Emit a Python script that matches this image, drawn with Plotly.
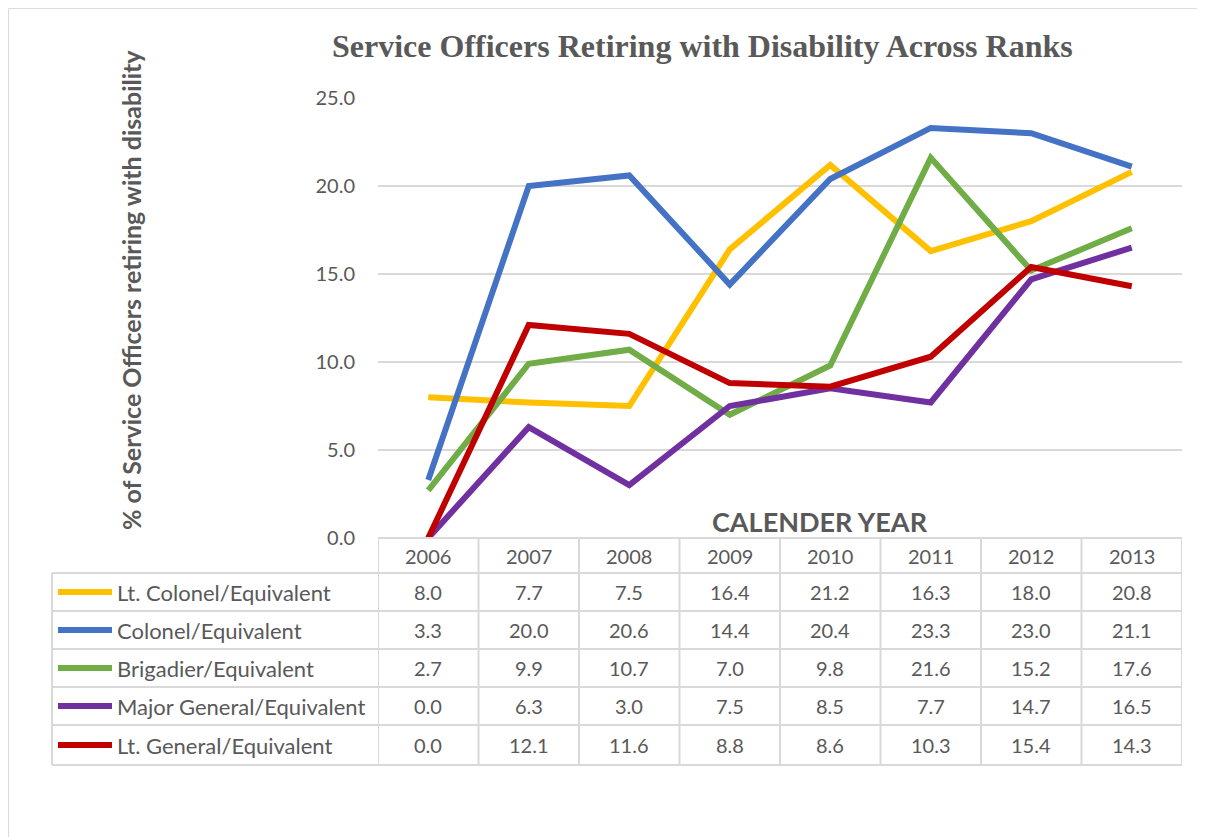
import plotly.graph_objects as go

W, H = 1205, 837

years = ["2006", "2007", "2008", "2009", "2010", "2011", "2012", "2013"]
series_names = [
    "Lt. Colonel/Equivalent",
    "Colonel/Equivalent",
    "Brigadier/Equivalent",
    "Major General/Equivalent",
    "Lt. General/Equivalent",
]
lt_colonel = [8.0, 7.7, 7.5, 16.4, 21.2, 16.3, 18.0, 20.8]
colonel = [3.3, 20.0, 20.6, 14.4, 20.4, 23.3, 23.0, 21.1]
brigadier = [2.7, 9.9, 10.7, 7.0, 9.8, 21.6, 15.2, 17.6]
major_general = [0.0, 6.3, 3.0, 7.5, 8.5, 7.7, 14.7, 16.5]
lt_general = [0.0, 12.1, 11.6, 8.8, 8.6, 10.3, 15.4, 14.3]
series_values = [lt_colonel, colonel, brigadier, major_general, lt_general]
colors = ["#FFC000", "#4472C4", "#70AD47", "#7030A0", "#C00000"]
y_ticks = [0, 5, 10, 15, 20, 25]

TXT = "#595959"
GRID = "#D9D9D9"
SANS = "Lato, Open Sans, sans-serif"
FS_NUM = 20
FS_LBL = 22
OFF = 8  # page body margin


def px(x):
    return (x - OFF) / W


def py(y):
    return 1 - (y - OFF) / H


fig = go.Figure()
for name, vals, col in zip(series_names, series_values, colors):
    fig.add_trace(go.Scatter(x=list(range(len(years))), y=vals, name=name, mode="lines",
                             line=dict(color=col, width=6), showlegend=False,
                             hovertext=years))

plot_left, plot_right, plot_top, plot_bottom = 378, 1182, 98, 538
fig.update_layout(
    width=W, height=H,
    margin=dict(l=0, r=0, t=0, b=0, pad=0, autoexpand=False),
    paper_bgcolor="white", plot_bgcolor="white",
    showlegend=False,
    xaxis=dict(domain=[px(plot_left), px(plot_right)],
               range=[-0.5, len(years) - 0.5], showticklabels=False, automargin=False,
               showgrid=False, zeroline=False, showline=False, ticks=""),
    yaxis=dict(domain=[py(plot_bottom), py(plot_top)], range=[0, 25], automargin=False,
               tickvals=y_ticks, ticktext=[f"{v:.1f}" for v in y_ticks],
               tickfont=dict(family=SANS, size=FS_NUM, color=TXT),
               showgrid=True, gridcolor=GRID, gridwidth=1.5,
               zeroline=False, showline=False, ticks="", ticklabelstandoff=22),
)

shapes = []
ann = []

# outer chart border
shapes.append(dict(type="rect", xref="paper", yref="paper",
                   x0=0.0005, x1=px(1202), y0=py(845), y1=0.9995,
                   line=dict(color=GRID, width=1)))

# title
ann.append(dict(text="<b>Service Officers Retiring with Disability Across Ranks</b>",
                xref="paper", yref="paper", x=px(703), y=py(46), showarrow=False,
                font=dict(family="Liberation Serif, Times New Roman, serif", size=32, color=TXT),
                xanchor="center", yanchor="middle"))
# y title
ann.append(dict(text="<b>% of Service Officers retiring with disability</b>",
                xref="paper", yref="paper", x=px(131), y=py(290), showarrow=False,
                textangle=-90, font=dict(family=SANS, size=25, color=TXT),
                xanchor="center", yanchor="middle"))
# x title
ann.append(dict(text="<b>CALENDER YEAR</b>", xref="paper", yref="paper",
                x=px(820), y=py(521), showarrow=False,
                font=dict(family=SANS, size=27, color=TXT),
                xanchor="center", yanchor="middle"))

# table geometry
header_top = 538
row_lines = [573, 611, 649, 687, 725, 765]
table_left = 52

shapes.append(dict(type="line", xref="paper", yref="paper", x0=px(plot_left), x1=px(plot_right),
                   y0=py(header_top), y1=py(header_top), line=dict(color=GRID, width=2)))
for yl in row_lines:
    shapes.append(dict(type="line", xref="paper", yref="paper", x0=px(table_left), x1=px(plot_right),
                       y0=py(yl), y1=py(yl), line=dict(color=GRID, width=2)))
shapes.append(dict(type="line", xref="paper", yref="paper", x0=px(table_left), x1=px(table_left),
                   y0=py(row_lines[0]), y1=py(row_lines[-1]), line=dict(color=GRID, width=2)))
for i in range(len(years) + 1):
    shapes.append(dict(type="line", xref="x", yref="paper", x0=i - 0.5, x1=i - 0.5,
                       y0=py(header_top), y1=py(row_lines[-1]), line=dict(color=GRID, width=2)))

for i, yr in enumerate(years):
    ann.append(dict(text=yr, xref="x", yref="paper", x=i, y=py((header_top + row_lines[0]) / 2),
                    showarrow=False, font=dict(family=SANS, size=FS_NUM, color=TXT),
                    xanchor="center", yanchor="middle"))

for r, (name, vals, col) in enumerate(zip(series_names, series_values, colors)):
    yc = (row_lines[r] + row_lines[r + 1]) / 2
    shapes.append(dict(type="line", xref="paper", yref="paper", x0=px(58), x1=px(112),
                       y0=py(yc), y1=py(yc), line=dict(color=col, width=6)))
    ann.append(dict(text=name, xref="paper", yref="paper", x=px(115), y=py(yc),
                    showarrow=False, font=dict(family=SANS, size=FS_LBL, color=TXT),
                    xanchor="left", yanchor="middle"))
    for i, v in enumerate(vals):
        ann.append(dict(text=f"{v:.1f}", xref="x", yref="paper", x=i, y=py(yc),
                        showarrow=False, font=dict(family=SANS, size=FS_NUM, color=TXT),
                        xanchor="center", yanchor="middle"))

fig.update_layout(shapes=shapes, annotations=ann)
fig.write_html("out.html")
